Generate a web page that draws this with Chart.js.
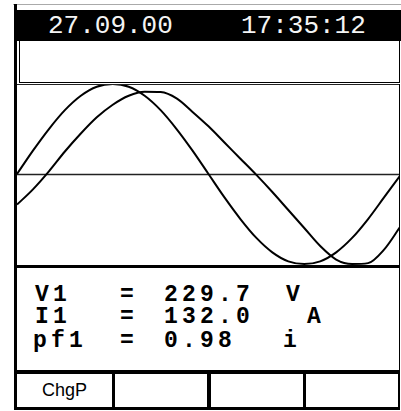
<!DOCTYPE html>
<html>
<head>
<meta charset="utf-8">
<script src="https://cdn.jsdelivr.net/npm/chart.js@4/dist/chart.umd.min.js"></script>
<style>
  html, body { margin:0; padding:0; background:#fff; width:401px; height:411px; overflow:hidden; }
  .abs { position:absolute; }
  .hdr { font-family:"Liberation Mono", monospace; font-size:26px; line-height:26px; color:#f4f4f4; white-space:pre; }
  .val { font-family:"Liberation Mono", monospace; font-weight:bold; font-size:23px; line-height:23px; color:#000; white-space:pre; letter-spacing:4.2px; }
  .btn { font-family:"Liberation Sans", Arial, sans-serif; font-size:18px; line-height:18px; color:#000; white-space:pre; }
</style>
</head>
<body>
<script>
// ---- data ----
const headerDate = "27.09.00";
const headerTime = "17:35:12";
const angles  = [0,15,30,45,60,75,90,105,120,135,150,165,180,195,210,225,240,255,270,285,300,315,330,345,360];
const voltage = [0,0.26,0.50,0.71,0.87,0.97,1.00,0.97,0.87,0.71,0.50,0.26,0,-0.26,-0.50,-0.71,-0.87,-0.97,-1.00,-0.97,-0.87,-0.71,-0.50,-0.26,-0.02];
const current = [-0.34,-0.17,0.03,0.25,0.45,0.63,0.77,0.87,0.915,0.91,0.84,0.69,0.53,0.35,0.17,-0.01,-0.20,-0.40,-0.60,-0.80,-0.95,-1.00,-0.99,-0.84,-0.59];
const readLabels = ["V1","I1","pf1"];
const readValues = ["229.7","132.0","0.98"];
const readUnits  = ["V","A","i"];
const buttonLabels = ["ChgP","","",""];
</script>

<!-- frame -->
<div class="abs" style="left:13px;top:4px;width:388px;height:1px;background:#aaa;"></div>
<div class="abs" style="left:14px;top:4px;width:3px;height:406px;background:#000;"></div>
<!-- header -->
<div class="abs" style="left:17px;top:10px;width:384px;height:31px;background:#000;"></div>
<div class="abs hdr" id="hd" style="left:48px;top:13px;"></div>
<div class="abs hdr" id="ht" style="left:241px;top:13px;"></div>
<!-- empty box under header -->
<div class="abs" style="left:19px;top:41px;width:1px;height:42px;background:#000;"></div>
<div class="abs" style="left:399px;top:41px;width:1px;height:42px;background:#000;"></div>
<div class="abs" style="left:19px;top:82px;width:381px;height:1px;background:#000;"></div>

<!-- plot -->
<div class="abs" style="left:17px;top:84px;width:383px;height:183px;">
  <canvas id="c" width="383" height="183"></canvas>
</div>
<div class="abs" style="left:17px;top:84px;width:383px;height:1px;background:#222;"></div>
<div class="abs" style="left:399px;top:84px;width:1px;height:286px;background:#000;"></div>
<div class="abs" style="left:17px;top:265px;width:383px;height:3px;background:#000;"></div>

<!-- readings -->
<div id="readings"></div>

<!-- buttons -->
<div class="abs" style="left:17px;top:370px;width:383px;height:4px;background:#000;"></div>
<div class="abs" style="left:17px;top:407px;width:383px;height:3px;background:#000;"></div>
<div class="abs" style="left:112px;top:373px;width:3px;height:36px;background:#000;"></div>
<div class="abs" style="left:207px;top:373px;width:4px;height:36px;background:#000;"></div>
<div class="abs" style="left:303px;top:373px;width:3px;height:36px;background:#000;"></div>
<div class="abs" style="left:398px;top:373px;width:2px;height:36px;background:#000;"></div>
<div class="abs btn" style="left:17px;top:381px;width:95px;text-align:center;" id="b0"></div>

<script>
document.getElementById('hd').textContent = headerDate;
document.getElementById('ht').textContent = headerTime;
document.getElementById('b0').textContent = buttonLabels[0];

const rd = document.getElementById('readings');
const tops = [284, 306, 330];
const unitLeft = [286, 307, 283];
readLabels.forEach((lab, i) => {
  const mk = (txt, left) => {
    const s = document.createElement('div');
    s.className = 'abs val';
    s.style.left = left + 'px';
    s.style.top = tops[i] + 'px';
    s.textContent = txt;
    rd.appendChild(s);
  };
  mk(lab, i === 2 ? 33 : 35);
  mk("=", 120);
  mk(readValues[i], 164);
  mk(readUnits[i], unitLeft[i]);
});

const midLine = {
  id: 'midLine',
  beforeDatasetsDraw(chart) {
    const { ctx, chartArea, scales } = chart;
    const y = Math.round(scales.y.getPixelForValue(0)) + 0.5;
    ctx.save();
    ctx.strokeStyle = '#222';
    ctx.lineWidth = 1.5;
    ctx.beginPath();
    ctx.moveTo(chartArea.left, y);
    ctx.lineTo(chartArea.right, y);
    ctx.stroke();
    ctx.restore();
  }
};

new Chart(document.getElementById('c'), {
  type: 'line',
  data: {
    datasets: [
      { label: 'V1', data: angles.map((a, i) => ({ x: a, y: voltage[i] })) },
      { label: 'I1', data: angles.map((a, i) => ({ x: a, y: current[i] })) }
    ].map(d => Object.assign(d, {
      borderColor: '#000', borderWidth: 2, pointRadius: 0,
      cubicInterpolationMode: 'monotone', fill: false
    }))
  },
  options: {
    responsive: false,
    maintainAspectRatio: false,
    animation: false,
    devicePixelRatio: 1,
    layout: { padding: 0 },
    plugins: { legend: { display: false }, tooltip: { enabled: false } },
    scales: {
      x: { type: 'linear', min: 0, max: 360, display: false },
      y: { type: 'linear', min: -1.033, max: 1, display: false }
    }
  },
  plugins: [midLine]
});
</script>
</body>
</html>
